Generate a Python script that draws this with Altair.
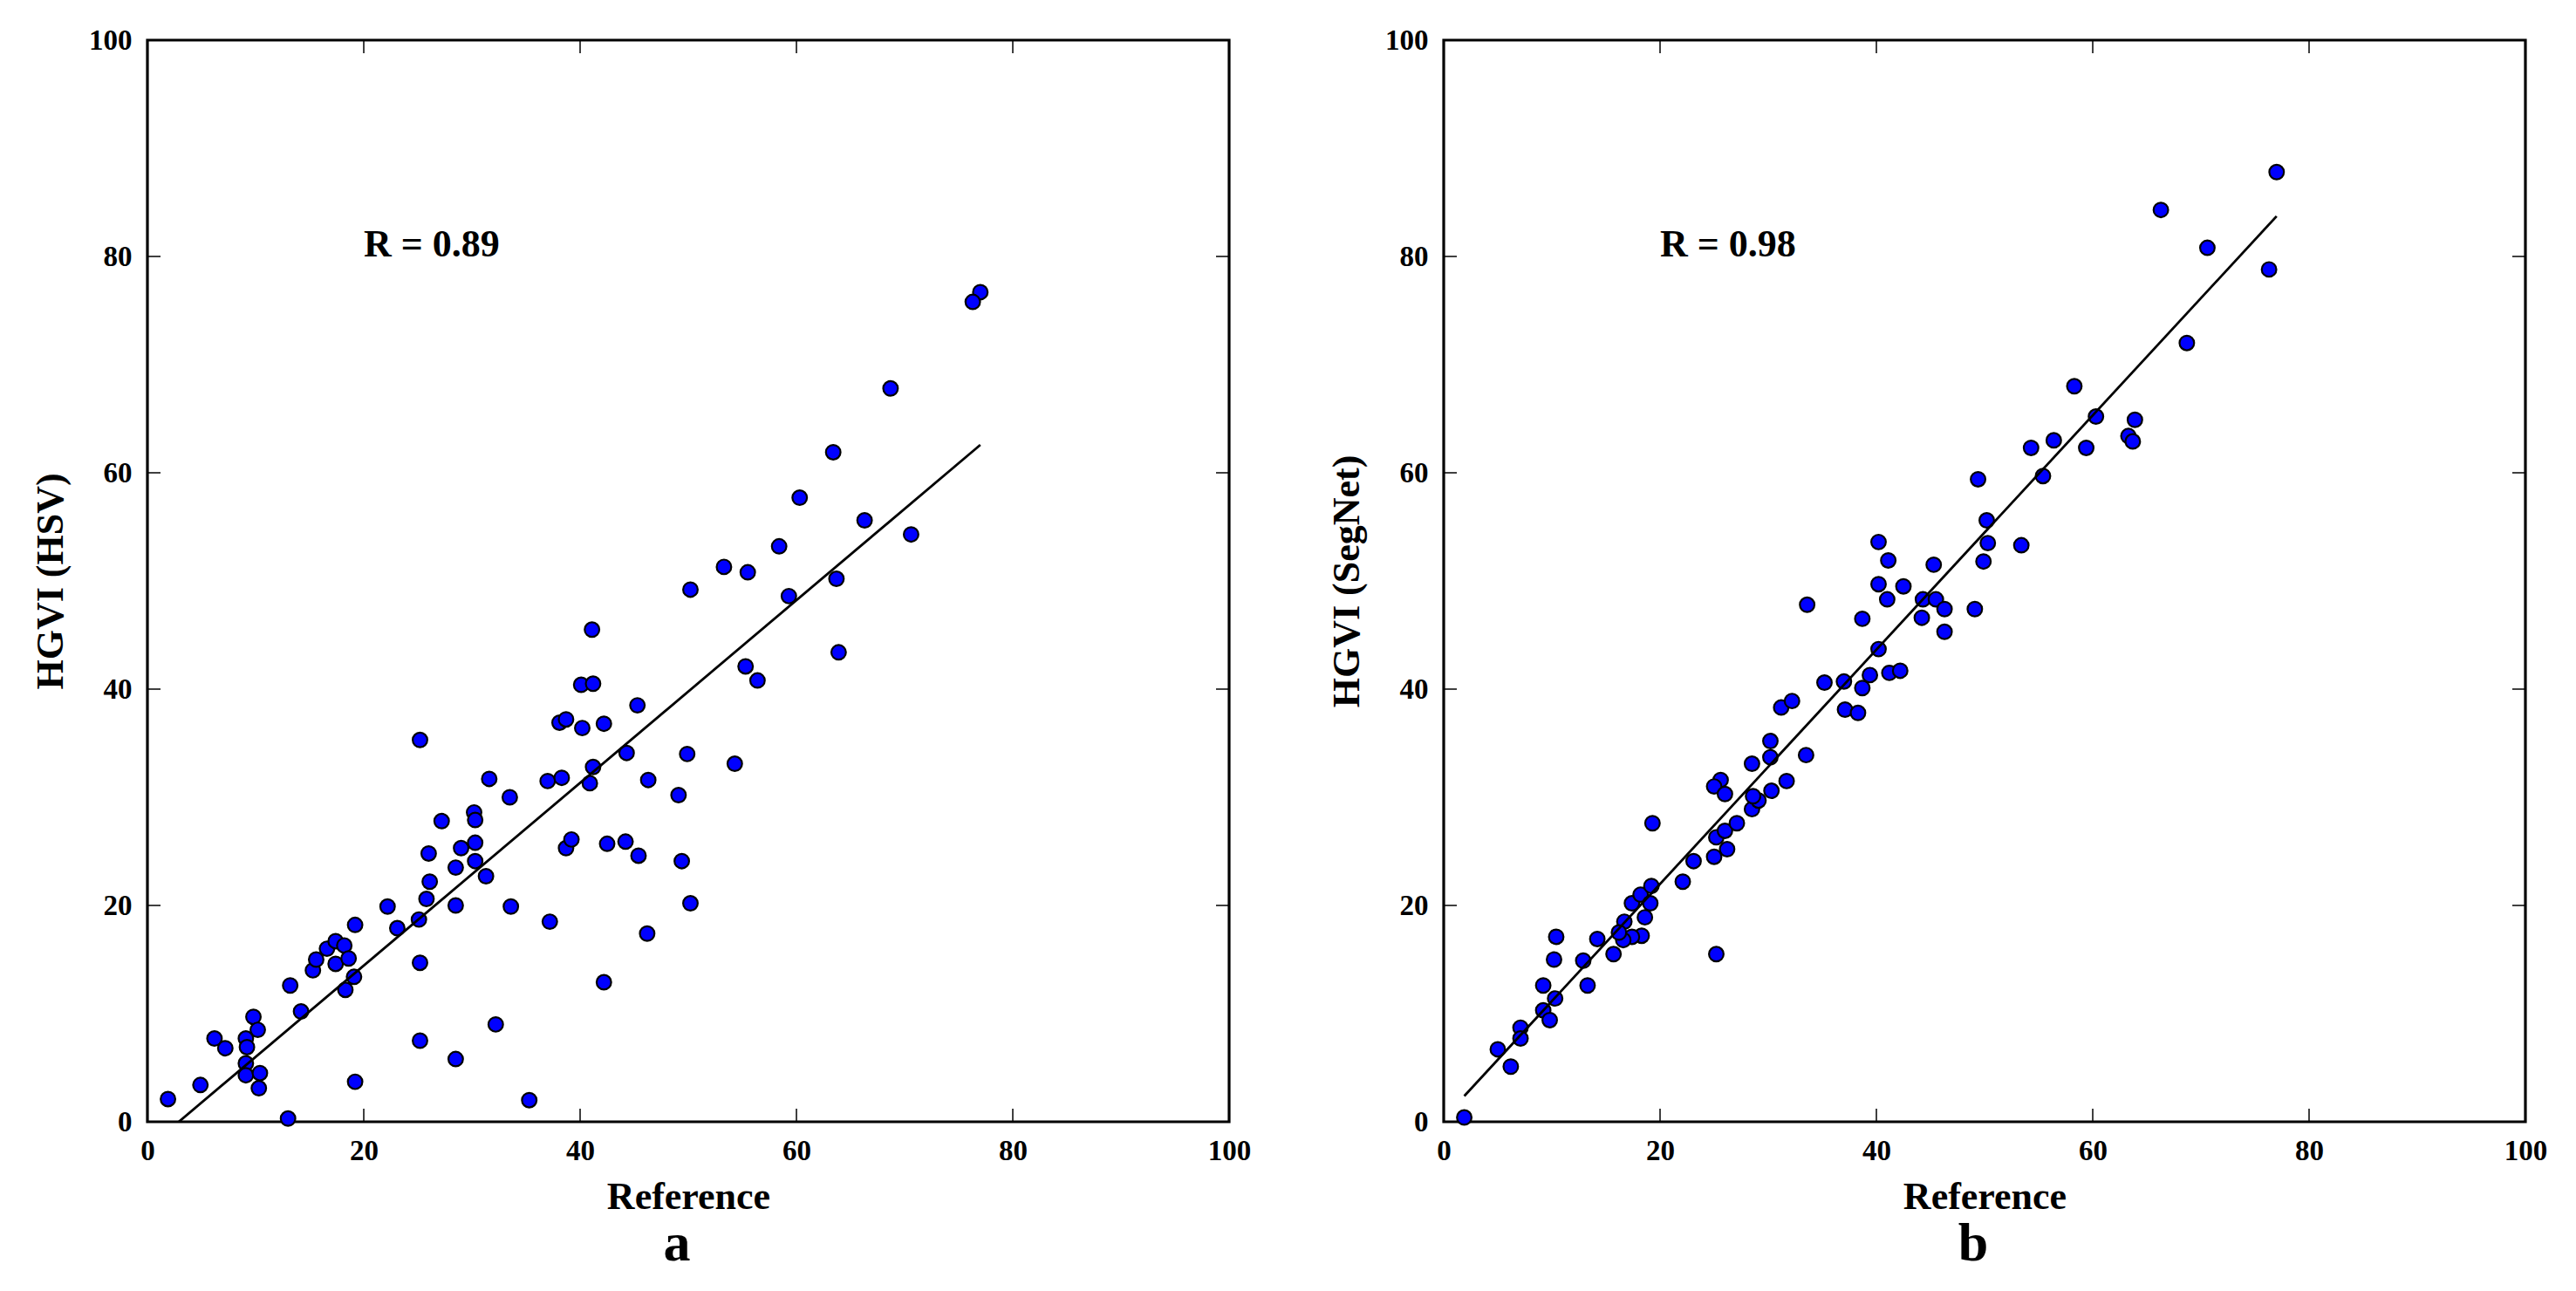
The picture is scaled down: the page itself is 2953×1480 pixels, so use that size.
import altair as alt
import pandas as pd

# ---------------- data ----------------
ref_a = [1.9, 4.9, 6.2, 7.2, 9.8, 10.2, 9.1, 9.2, 9.1, 9.1, 10.4, 10.3, 13.0, 14.2, 13.2,
         15.3, 15.6, 16.6, 17.4, 18.2, 17.4, 18.6, 19.1, 18.3, 19.2, 19.2, 22.2, 23.1, 25.1,
         25.2, 25.2, 25.2, 26.0, 26.1, 25.8, 27.2, 28.5, 28.5, 29.0, 30.3, 30.3, 30.2, 30.3,
         31.3, 31.6, 33.5, 33.6, 32.2, 28.5, 35.3, 37.2, 37.0, 38.3, 38.1, 38.7, 38.7, 39.2,
         40.1, 42.2, 46.2, 50.2, 42.5, 44.2, 45.4, 49.4, 40.9, 41.2, 44.3, 46.3, 49.1, 49.9,
         54.3, 40.2, 42.2, 45.3, 41.2, 41.1, 50.2, 53.3, 55.5, 58.4, 55.3, 56.4, 59.3, 63.7,
         63.9, 70.6, 66.3, 77.0, 76.3, 68.7, 63.4, 60.3]
hsv_a = [2.1, 3.4, 7.7, 6.8, 9.7, 8.5, 7.7, 6.9, 5.4, 4.3, 4.5, 3.1, 0.3, 10.2, 12.6,
         14.0, 15.0, 16.0, 16.7, 16.3, 14.6, 15.1, 13.4, 12.2, 18.2, 3.7, 19.9, 17.9, 18.7,
         14.7, 7.5, 35.3, 24.8, 22.2, 20.6, 27.8, 20.0, 23.5, 25.3, 25.8, 24.1, 28.6, 27.9,
         22.7, 31.7, 30.0, 19.9, 9.0, 5.8, 2.0, 18.5, 31.5, 31.8, 36.9, 37.2, 25.3, 26.1,
         40.4, 12.9, 17.4, 20.2, 25.7, 25.9, 24.6, 24.1, 31.3, 32.8, 34.1, 31.6, 30.2, 34.0,
         33.1, 36.4, 36.8, 38.5, 40.5, 45.5, 49.2, 51.3, 50.8, 53.2, 42.1, 40.8, 48.6, 50.2,
         43.4, 54.3, 55.6, 76.7, 75.8, 67.8, 61.9, 57.7]

ref_b = [1.9, 5.0, 6.2, 7.1, 7.1, 9.2, 9.2, 9.8, 10.3, 10.4, 10.2, 12.9, 13.3, 14.2, 15.7,
         16.7, 17.4, 18.2, 19.2, 19.1, 18.6, 18.3, 17.4, 16.6, 16.2, 19.3, 22.1, 23.1, 25.2,
         25.0, 25.2, 26.2, 26.0, 27.1, 28.5, 29.1, 28.6, 30.3, 31.7, 33.5, 30.2, 30.2, 28.5,
         25.6, 25.0, 26.0, 31.2, 32.2, 35.2, 37.0, 37.1, 38.3, 38.7, 39.4, 41.2, 42.2, 40.2,
         38.7, 44.2, 46.3, 33.6, 44.3, 45.5, 46.3, 49.1, 41.0, 40.2, 42.5, 45.3, 41.1, 40.2,
         49.9, 50.3, 53.4, 50.2, 49.4, 55.4, 54.3, 56.4, 59.4, 60.3, 63.3, 63.7, 63.9, 58.3,
         68.7, 76.3, 70.6, 66.3, 77.0]
segnet_b = [0.4, 6.7, 5.1, 8.7, 7.7, 12.6, 10.3, 9.4, 11.4, 17.1, 15.0, 14.9, 12.6, 16.9, 15.5,
            18.5, 20.2, 21.0, 21.8, 20.2, 18.9, 17.2, 17.1, 16.8, 17.5, 27.6, 22.2, 24.1, 15.5,
            24.5, 26.3, 25.2, 26.9, 27.6, 28.9, 29.7, 30.1, 30.6, 31.5, 33.9, 35.2, 33.7, 33.1,
            31.6, 31.0, 30.3, 38.3, 38.9, 40.6, 40.7, 38.1, 37.8, 40.1, 41.3, 41.5, 41.7, 43.7,
            46.5, 46.6, 45.3, 47.8, 48.3, 48.3, 47.4, 47.4, 48.3, 49.7, 49.5, 51.5, 51.9, 53.6,
            51.8, 53.5, 53.3, 55.6, 59.4, 59.7, 62.3, 63.0, 62.3, 65.2, 63.4, 62.9, 64.9, 68.0,
            72.0, 78.8, 80.8, 84.3, 87.8]

tick_values = [0, 20, 40, 60, 80, 100]
x_title = "Reference"
y_title_a = "HGVI (HSV)"
y_title_b = "HGVI (SegNet)"
r_text_a = "R = 0.89"
r_text_b = "R = 0.98"
r_pos = [20, 80]
caption_a = "a"
caption_b = "b"

# ---------------- styling ----------------
W = 1240
H = 1240
TICK_LEN = 15
FONT = "Liberation Serif"


def panel(xs, ys, ytitle, rtext, caption):
    df = pd.DataFrame({"ref": xs, "val": ys})
    xsc = alt.Scale(domain=[0, 100], nice=False, zero=False)
    ysc = alt.Scale(domain=[0, 100], nice=False, zero=False)
    xax = alt.Axis(values=tick_values, title=x_title, labelFlush=False,
                   labelPadding=17, titlePadding=14)
    yax = alt.Axis(values=tick_values, title=ytitle, labelFlush=False,
                   labelPadding=18, titlePadding=21)

    def X(field):
        return alt.X(field, type="quantitative", scale=xsc, axis=xax)

    def Y(field):
        return alt.Y(field, type="quantitative", scale=ysc, axis=yax)

    pts = alt.Chart(df).mark_circle(
        fill="#0000ff", stroke="black", strokeWidth=2.2, size=280, opacity=1, fillOpacity=1
    ).encode(x=X("ref"), y=Y("val"))

    fit = alt.Chart(df).transform_regression("ref", "val").mark_line(
        color="black", strokeWidth=2.8, clip=True
    ).encode(x=X("ref"), y=Y("val"))

    tdf = pd.DataFrame({"ref": tick_values, "val": tick_values})
    tick_base = alt.Chart(tdf).mark_rule(color="black", strokeWidth=1.5)
    t_bottom = tick_base.encode(x=X("ref"), y=alt.value(H), y2=alt.value(H - TICK_LEN))
    t_top = tick_base.encode(x=X("ref"), y=alt.value(0), y2=alt.value(TICK_LEN))
    t_left = tick_base.encode(y=Y("val"), x=alt.value(0), x2=alt.value(TICK_LEN))
    t_right = tick_base.encode(y=Y("val"), x=alt.value(W), x2=alt.value(W - TICK_LEN))

    txt = alt.Chart(pd.DataFrame({"label": [rtext], "ref": [r_pos[0]], "val": [r_pos[1]]})).mark_text(
        align="left", baseline="alphabetic", font=FONT, fontSize=44, fontWeight="bold", color="black"
    ).encode(text="label:N", x=X("ref"), y=Y("val"))

    return alt.layer(pts, fit, t_bottom, t_top, t_left, t_right, txt).properties(
        width=W, height=H,
        title=alt.Title(caption, orient="bottom", anchor="middle", fontSize=62, font=FONT,
                        fontWeight="bold", color="black", offset=2, dx=-13),
    )


left = panel(ref_a, hsv_a, y_title_a, r_text_a, caption_a)
right = panel(ref_b, segnet_b, y_title_b, r_text_b, caption_b)

chart = alt.hconcat(left, right, spacing=246, bounds="flush").configure(
    padding={"left": 26, "top": 20, "right": 5, "bottom": 5},
    background="white",
).configure_view(
    stroke="black", strokeWidth=3.2
).configure_axis(
    labelFont=FONT, labelFontSize=33, labelFontWeight="bold", labelColor="black",
    titleFont=FONT, titleFontSize=44, titleFontWeight="bold", titleColor="black",
    domain=False, ticks=False, grid=False,
)

chart.save("out.html", embed_options={"renderer": "svg", "actions": False})
